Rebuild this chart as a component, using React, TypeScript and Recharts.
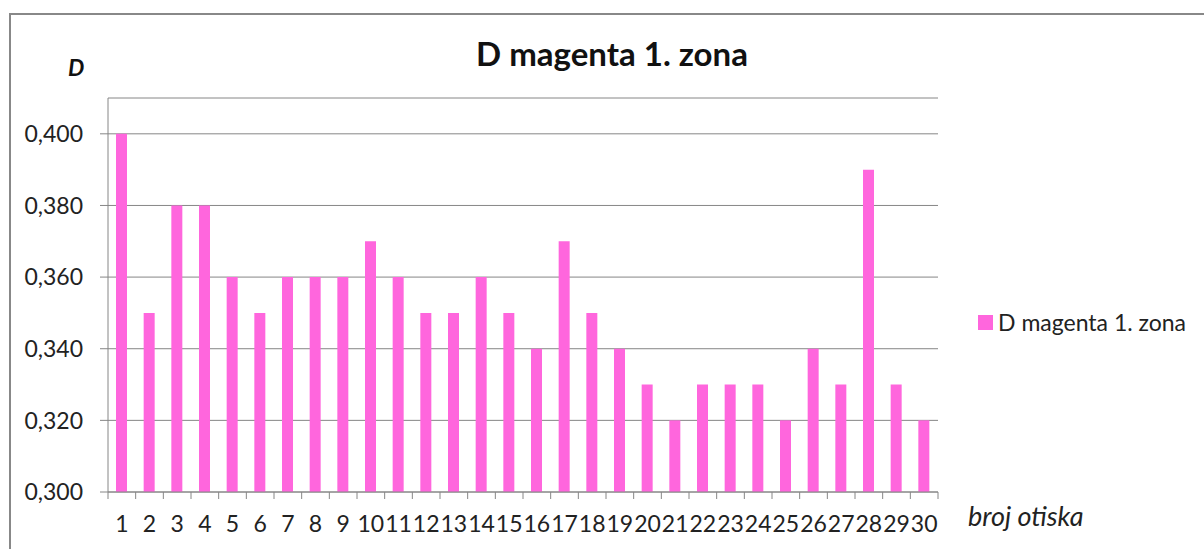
import { BarChart, Bar, XAxis, YAxis, CartesianGrid } from 'recharts';

const categories = ['1', '2', '3', '4', '5', '6', '7', '8', '9', '10', '11', '12', '13', '14', '15',
  '16', '17', '18', '19', '20', '21', '22', '23', '24', '25', '26', '27', '28', '29', '30'];
const magentaZone1 = [0.40, 0.35, 0.38, 0.38, 0.36, 0.35, 0.36, 0.36, 0.36, 0.37, 0.36, 0.35, 0.35, 0.36, 0.35,
  0.34, 0.37, 0.35, 0.34, 0.33, 0.32, 0.33, 0.33, 0.33, 0.32, 0.34, 0.33, 0.39, 0.33, 0.32];
const yTicks = [0.3, 0.32, 0.34, 0.36, 0.38, 0.4];

const SERIES = 'D magenta 1. zona';
const FONT = 'Lato, "Open Sans", sans-serif';
const AXIS = '#868686';
const PINK = '#ff66dd';

const W = 1204;
const H = 549;
const PLOT_LEFT = 108;
const PLOT_RIGHT = 938;
const STEP = (PLOT_RIGHT - PLOT_LEFT) / categories.length;

const data = categories.map((c, i) => ({ name: c, [SERIES]: magentaZone1[i] }));

// Excel-style category axis: tick marks between categories, labels centred
function XTick(props: any) {
  const { x, y, payload, index } = props;
  const left = x - STEP / 2;
  return (
    <g>
      <line x1={left} x2={left} y1={y} y2={y + 7} stroke={AXIS} />
      {index === categories.length - 1 && (
        <line x1={x + STEP / 2} x2={x + STEP / 2} y1={y} y2={y + 7} stroke={AXIS} />
      )}
      <text x={x} y={y + 40} textAnchor="middle" fontSize={23} fill="#222" fontFamily={FONT}>
        {payload.value}
      </text>
    </g>
  );
}

export default function App() {
  return (
    <div style={{ position: 'absolute', left: 0, top: 0, width: W, height: H, overflow: 'hidden', background: '#fff' }}>
      <div style={{ position: 'absolute', left: 9, top: 13, width: W, height: H, border: '2px solid #888' }} />
      <div style={{ position: 'absolute', left: 0, top: 34, width: 1224, textAlign: 'center', fontFamily: FONT, fontWeight: 700, fontSize: 33, color: '#111', lineHeight: 1.2 }}>
        {SERIES}
      </div>
      <div style={{ position: 'absolute', left: 68, top: 54, fontFamily: FONT, fontWeight: 700, fontStyle: 'italic', fontSize: 23, color: '#111', lineHeight: 1.2 }}>
        D
      </div>
      <div style={{ position: 'absolute', left: 968, top: 500, fontFamily: FONT, fontStyle: 'italic', fontSize: 27, color: '#222', lineHeight: 1.2 }}>
        broj otiska
      </div>
      <div style={{ position: 'absolute', left: 978, top: 308, height: 28, display: 'flex', alignItems: 'center', fontFamily: FONT, fontSize: 23, color: '#222', whiteSpace: 'nowrap' }}>
        <span style={{ width: 15, height: 15, background: PINK, marginRight: 5, display: 'inline-block' }} />
        {SERIES}
      </div>
      <div style={{ position: 'absolute', left: 0, top: 0 }}>
        <BarChart width={W} height={H} data={data} margin={{ top: 98, right: W - PLOT_RIGHT, bottom: 27, left: 48 }}>
          <CartesianGrid horizontal vertical={false} stroke={AXIS} strokeOpacity={1} />
          <XAxis
            dataKey="name"
            height={30}
            tickSize={0}
            tickMargin={0}
            tick={<XTick />}
            interval={0}
            axisLine={{ stroke: AXIS }}
          />
          <YAxis
            width={60}
            domain={[0.3, 0.41]}
            ticks={yTicks}
            allowDataOverflow
            tickSize={8}
            tickMargin={17}
            tickLine={{ stroke: AXIS }}
            axisLine={{ stroke: AXIS }}
            tick={{ fontSize: 23, fill: '#222', fontFamily: FONT }}
            tickFormatter={(v: number) => v.toFixed(3).replace('.', ',')}
          />
          <Bar dataKey={SERIES} fill={PINK} barSize={11} isAnimationActive={false} />
        </BarChart>
      </div>
    </div>
  );
}
